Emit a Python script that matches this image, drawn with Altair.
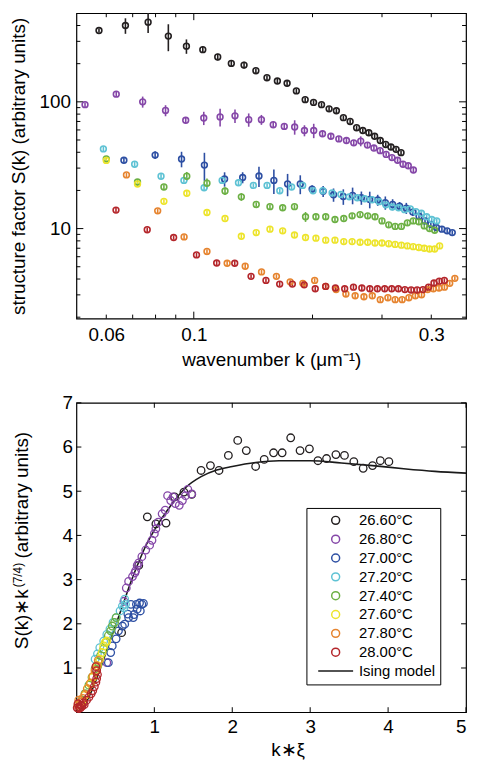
import altair as alt
import pandas as pd

FONT = "Liberation Sans"

series_names = ["26.60°C", "26.80°C", "27.00°C", "27.20°C",
                "27.40°C", "27.60°C", "27.80°C", "28.00°C"]
series_colors = ["#231f20", "#8547a8", "#2d4fa3", "#5ec2d4",
                 "#6cb044", "#ede42a", "#e6842f", "#b4262b"]
model_name = "Ising model"
model_color = "#1a1a1a"

# ---------------- top panel: S(k) vs k ----------------
k_2660 = [0.0575, 0.0671, 0.0766, 0.0862, 0.0958, 0.1054, 0.1150, 0.1245, 0.1341, 0.1437,
          0.1533, 0.1629, 0.1724, 0.1820, 0.1916, 0.2012, 0.2108, 0.2203, 0.2299, 0.2395,
          0.2491, 0.2587, 0.2682, 0.2778, 0.2874, 0.2970, 0.3066, 0.3161, 0.3257, 0.3353]
S_2660 = [365, 400, 425, 330, 275, 258, 226, 201, 195, 176, 155, 146, 140, 122, 104, 99, 95, 88,
          85, 75, 70, 62.5, 59.4, 57, 53.5, 49.5, 46.1, 44, 42.2, 39.7]
e_2660 = [0.04, 0.14, 0.18, 0.24, 0.13, 0.06, 0.06, 0.05, 0.06, 0.04, 0.04, 0.04, 0.05, 0.04, 0.04,
          0.04, 0.04, 0.04, 0.04, 0.04, 0.04, 0.04, 0.04, 0.04, 0.04, 0.04, 0.04, 0.04, 0.04, 0.04]

k_2680 = [0.0530, 0.0636, 0.0742, 0.0848, 0.0954, 0.1060, 0.1166, 0.1272, 0.1378, 0.1484,
          0.1590, 0.1696, 0.1802, 0.1908, 0.2014, 0.2120, 0.2226, 0.2332, 0.2438, 0.2544,
          0.2650, 0.2756, 0.2862, 0.2968, 0.3074, 0.3180, 0.3286, 0.3392, 0.3498, 0.3604]
S_2680 = [95, 115, 100, 85.5, 71.5, 74.5, 76, 77.5, 72.3, 72.3, 66, 64, 63.3, 59.4, 59.4, 56,
          53.5, 51, 49.5, 47.5, 49, 45.6, 43.2, 41.2, 38.5, 36.3, 34.6, 32.2, 31.3, 29]
e_2680 = [0.04, 0.05, 0.10, 0.10, 0.05, 0.12, 0.16, 0.12, 0.12, 0.09, 0.05, 0.05, 0.13, 0.10, 0.13,
          0.05, 0.05, 0.05, 0.05, 0.05, 0.09, 0.05, 0.04, 0.04, 0.04, 0.04, 0.04, 0.04, 0.04, 0.04]

k_2700 = [0.0665, 0.0798, 0.0931, 0.1064, 0.1197, 0.1330, 0.1463, 0.1596, 0.1729, 0.1862,
          0.1995, 0.2128, 0.2261, 0.2394, 0.2527, 0.2660, 0.2793, 0.2926, 0.3059, 0.3192,
          0.3325, 0.3458, 0.3591, 0.3724, 0.3857, 0.3990, 0.4123, 0.4256, 0.4389, 0.4522]
S_2700 = [34.6, 38, 35.4, 31.7, 24.6, 25.3, 26, 24, 22.5, 22.5, 20.5, 19.7, 18.5, 17.9, 18.3,
          17.5, 17, 16.8, 16, 15.5, 15, 14.5, 13.5, 12.5, 11.5, 10.8, 10.2, 9.9, 9.6, 9.3]
e_2700 = [0.04, 0.07, 0.14, 0.25, 0.13, 0.10, 0.18, 0.22, 0.20, 0.17, 0.07, 0.10, 0.12, 0.14, 0.15,
          0.12, 0.15, 0.10, 0.12, 0.10, 0.08, 0.10, 0.07, 0.06, 0.05, 0.04, 0.04, 0.04, 0.04, 0.04]

k_2720 = [0.0590, 0.0708, 0.0826, 0.0944, 0.1062, 0.1180, 0.1298, 0.1416, 0.1534, 0.1652,
          0.1770, 0.1888, 0.2006, 0.2124, 0.2242, 0.2360, 0.2478, 0.2596, 0.2714, 0.2832,
          0.2950, 0.3068, 0.3186, 0.3304, 0.3422, 0.3540, 0.3658, 0.3776, 0.3894, 0.4012, 0.4130]
S_2720 = [42.5, 32.2, 25.9, 24, 21, 24, 23, 21.9, 21.9, 19.9, 21.3, 21.9, 19.9, 19.9, 19.1, 18.6,
          17.8, 17.5, 17.2, 16.9, 16.3, 15.4, 14.8, 14.6, 14.1, 14.3, 13.6, 13.2, 12.4, 11.8, 11.5]
e_2720 = [0.05, 0.04, 0.04, 0.04, 0.04, 0.06, 0.04, 0.04, 0.04, 0.04, 0.04, 0.04, 0.04, 0.04, 0.04,
          0.04, 0.04, 0.04, 0.04, 0.04, 0.04, 0.04, 0.04, 0.04, 0.04, 0.04, 0.04, 0.04, 0.04, 0.04, 0.04]

k_2740 = [0.060, 0.072, 0.084, 0.096, 0.108, 0.120, 0.132, 0.144, 0.156, 0.168,
          0.180, 0.192, 0.204, 0.216, 0.228, 0.240, 0.252, 0.264, 0.276, 0.288,
          0.300, 0.312, 0.324, 0.336, 0.348, 0.360, 0.372, 0.384, 0.396, 0.408]
S_2740 = [35.5, 23.3, 21.3, 25.9, 22.8, 19.8, 17.8, 15.5, 14.9, 14.6, 14.9, 12.4, 12.4, 12.4, 11.8,
          12, 12.6, 12.9, 12.6, 12.4, 11.5, 10.7, 10.4, 10.4, 11.1, 11.5, 11.3, 10.5, 10, 9.7]
e_2740 = [0.04, 0.04, 0.04, 0.08, 0.09, 0.07, 0.07, 0.04, 0.04, 0.04, 0.04, 0.09, 0.04, 0.04, 0.04,
          0.04, 0.04, 0.04, 0.04, 0.04, 0.04, 0.04, 0.04, 0.04, 0.04, 0.04, 0.04, 0.04, 0.04, 0.04]

k_2760 = [0.060, 0.072, 0.084, 0.096, 0.108, 0.120, 0.132, 0.144, 0.156, 0.168,
          0.180, 0.192, 0.204, 0.216, 0.228, 0.240, 0.252, 0.264, 0.276, 0.288,
          0.300, 0.312, 0.324, 0.336, 0.348, 0.360, 0.372, 0.384, 0.396, 0.408, 0.420]
S_2760 = [34.5, 22.5, 16.4, 19, 13.4, 12, 8.7, 9.3, 9.9, 9.6, 8.9, 8.5, 8.4, 8.1, 8.1, 7.9, 7.9,
          7.8, 7.8, 7.7, 7.7, 7.6, 7.5, 7.4, 7.3, 7.2, 7.1, 7.0, 6.9, 6.9, 7.3]
e_2760 = [0.04, 0.04, 0.04, 0.04, 0.04, 0.04, 0.04, 0.04, 0.04, 0.04, 0.04, 0.04, 0.04, 0.04, 0.04,
          0.04, 0.04, 0.04, 0.04, 0.04, 0.04, 0.04, 0.04, 0.04, 0.04, 0.04, 0.04, 0.04, 0.04, 0.04, 0.04]

k_2780 = [0.0675, 0.0810, 0.0945, 0.1080, 0.1215, 0.1350, 0.1485, 0.1620, 0.1755, 0.1890,
          0.2025, 0.2160, 0.2295, 0.2430, 0.2565, 0.2700, 0.2835, 0.2970, 0.3105, 0.3240,
          0.3375, 0.3510, 0.3645, 0.3780, 0.3915, 0.4050, 0.4185, 0.4320, 0.4455, 0.4590]
S_2780 = [26.5, 13.8, 8.6, 6.6, 5.33, 5.05, 4.55, 4.2, 3.8, 3.7, 3.9, 3.5, 3.3, 3.05, 2.95, 2.9,
          2.95, 2.75, 2.85, 2.75, 2.75, 2.85, 2.95, 3.0, 3.3, 3.35, 3.4, 3.45, 3.7, 4.05]
e_2780 = [0.04, 0.04, 0.04, 0.04, 0.04, 0.04, 0.04, 0.04, 0.04, 0.04, 0.04, 0.04, 0.04, 0.04, 0.04,
          0.04, 0.04, 0.04, 0.04, 0.04, 0.04, 0.04, 0.04, 0.04, 0.04, 0.04, 0.04, 0.04, 0.04, 0.04]

k_2800 = [0.0635, 0.0762, 0.0889, 0.1016, 0.1143, 0.1270, 0.1397, 0.1524, 0.1651, 0.1778,
          0.1905, 0.2032, 0.2159, 0.2286, 0.2413, 0.2540, 0.2667, 0.2794, 0.2921, 0.3048,
          0.3175, 0.3302, 0.3429, 0.3556, 0.3683, 0.3810, 0.3937, 0.4064, 0.4191, 0.4318]
S_2800 = [14, 9.8, 8.5, 6.2, 5.35, 5.33, 4.2, 3.9, 3.65, 3.65, 3.6, 3.35, 3.5, 3.4, 3.35, 3.45,
          3.4, 3.35, 3.35, 3.35, 3.35, 3.35, 3.3, 3.28, 3.28, 3.3, 3.45, 3.72, 3.85, 3.9]
e_2800 = [0.04, 0.04, 0.04, 0.04, 0.04, 0.04, 0.04, 0.04, 0.04, 0.04, 0.04, 0.04, 0.04, 0.04, 0.04,
          0.04, 0.04, 0.04, 0.04, 0.04, 0.04, 0.04, 0.04, 0.04, 0.04, 0.04, 0.04, 0.04, 0.04, 0.04]

# ---------------- bottom panel: S(k)*k^(7/4) vs k*xi ----------------
xb_2660 = [0.58, 0.80, 0.91, 1.02, 1.15, 1.26, 1.38, 1.48, 1.60, 1.72, 1.83, 1.95, 2.07, 2.18, 2.30,
           2.41, 2.53, 2.64, 2.75, 2.87, 2.99, 3.10, 3.21, 3.33, 3.44, 3.56, 3.68, 3.80, 3.90, 4.01]
yb_2660 = [1.80, 3.32, 4.42, 4.26, 4.28, 4.87, 4.98, 4.93, 5.47, 5.58, 5.47, 5.81, 6.15, 5.92, 5.56,
           5.72, 5.87, 5.87, 6.21, 5.92, 5.96, 5.69, 5.74, 5.83, 5.81, 5.67, 5.52, 5.58, 5.69, 5.67]
xb_2680 = [0.39, 0.61, 0.64, 0.67, 0.72, 0.75, 0.76, 0.78, 0.80, 0.84, 0.89, 0.94, 0.97, 1.00,
           1.02, 1.05, 1.10, 1.14, 1.17, 1.21, 1.24, 1.27, 1.32, 1.36, 1.40, 1.43, 1.48]
yb_2680 = [1.12, 2.51, 2.81, 2.96, 3.07, 3.15, 3.20, 3.32, 3.38, 3.52, 3.67, 3.78, 3.89, 4.04,
           4.15, 4.30, 4.49, 4.57, 4.90, 4.79, 4.87, 4.72, 4.68, 4.79, 4.90, 5.04, 4.94]
xb_2700 = [0.41, 0.44, 0.46, 0.51, 0.54, 0.59, 0.62, 0.66, 0.67, 0.70, 0.73, 0.74, 0.77, 0.78,
           0.81, 0.82, 0.84, 0.86]
yb_2700 = [1.12, 1.35, 1.50, 1.66, 1.84, 1.95, 1.99, 2.22, 2.14, 2.44, 2.14, 2.21, 2.44, 2.33,
           2.47, 2.29, 2.44, 2.46]
xb_2720 = [0.24, 0.27, 0.30, 0.35, 0.39, 0.43, 0.47, 0.51, 0.56, 0.59, 0.61, 0.62, 0.63]
yb_2720 = [1.20, 1.32, 1.46, 1.61, 1.76, 1.88, 2.03, 2.14, 2.29, 2.40, 2.36, 2.56, 2.44]
xb_2740 = [0.07, 0.11, 0.16, 0.20, 0.24, 0.28, 0.31, 0.35, 0.38, 0.41, 0.44, 0.46, 0.49, 0.51]
yb_2740 = [0.27, 0.42, 0.61, 0.79, 0.98, 1.13, 1.28, 1.43, 1.58, 1.73, 1.84, 1.95, 2.03, 2.14]
xb_2760 = [0.04, 0.07, 0.11, 0.14, 0.18, 0.21, 0.24, 0.27, 0.30, 0.33, 0.35, 0.37, 0.39]
yb_2760 = [0.12, 0.23, 0.38, 0.53, 0.64, 0.79, 0.94, 1.05, 1.20, 1.35, 1.50, 1.58, 1.61]
xb_2780 = [0.02, 0.03, 0.05, 0.08, 0.11, 0.14, 0.18, 0.21, 0.24, 0.26, 0.28]
yb_2780 = [0.16, 0.27, 0.23, 0.31, 0.40, 0.53, 0.66, 0.81, 0.94, 1.05, 1.17]
xb_2800 = [0.01, 0.02, 0.03, 0.04, 0.05, 0.06, 0.07, 0.09, 0.10, 0.13, 0.16, 0.19, 0.21, 0.23,
           0.25, 0.26, 0.27, 0.26, 0.25]
yb_2800 = [0.10, 0.19, 0.08, 0.12, 0.10, 0.16, 0.13, 0.21, 0.17, 0.27, 0.34, 0.42, 0.49, 0.58,
           0.68, 0.76, 0.85, 0.94, 1.03]

ising_x = [0, 0.1, 0.2, 0.3, 0.4, 0.5, 0.6, 0.7, 0.8, 0.9, 1.0, 1.2, 1.4, 1.6, 1.8, 2.0,
           2.3, 2.6, 3.0, 3.4, 3.8, 4.2, 4.6, 5.0]
ising_y = [0, 0.15, 0.5, 0.95, 1.45, 1.95, 2.45, 2.95, 3.4, 3.8, 4.12, 4.65, 5.08, 5.33, 5.48, 5.56,
           5.65, 5.69, 5.69, 5.64, 5.58, 5.51, 5.45, 5.41]

# axis tick / label lists
top_x_label_vals = [0.06, 0.1, 0.4]
top_x_label_text = ["0.06", "0.1", "0.3"]
top_x_major = [0.1]
top_x_minor = [0.06, 0.07, 0.08, 0.09, 0.2, 0.3, 0.4]
top_y_label_vals = [10, 100]
top_y_label_text = ["10", "100"]
top_y_major = [10, 100]
top_y_minor = [2, 3, 4, 5, 6, 7, 8, 9, 20, 30, 40, 50, 60, 70, 80, 90, 200, 300, 400]
bot_x_vals = [1, 2, 3, 4, 5]
bot_y_vals = [1, 2, 3, 4, 5, 6, 7]

# ---------------- build tables ----------------
top_series = [
    (series_names[0], k_2660, S_2660, e_2660),
    (series_names[1], k_2680, S_2680, e_2680),
    (series_names[2], k_2700, S_2700, e_2700),
    (series_names[3], k_2720, S_2720, e_2720),
    (series_names[4], k_2740, S_2740, e_2740),
    (series_names[5], k_2760, S_2760, e_2760),
    (series_names[6], k_2780, S_2780, e_2780),
    (series_names[7], k_2800, S_2800, e_2800),
]
rows = []
for name, ks, ss, es in top_series:
    for k, s, e in zip(ks, ss, es):
        rows.append({"series": name, "k": k, "S": s, "lo": s * (1 - e), "hi": s * (1 + e)})
df_top = pd.DataFrame(rows)

bot_series = [
    (series_names[0], xb_2660, yb_2660),
    (series_names[1], xb_2680, yb_2680),
    (series_names[2], xb_2700, yb_2700),
    (series_names[3], xb_2720, yb_2720),
    (series_names[4], xb_2740, yb_2740),
    (series_names[5], xb_2760, yb_2760),
    (series_names[6], xb_2780, yb_2780),
    (series_names[7], xb_2800, yb_2800),
]
rows = []
for name, xs, ys in bot_series:
    for x, y in zip(xs, ys):
        rows.append({"series": name, "x": x, "y": y})
df_bot = pd.DataFrame(rows)
df_ising = pd.DataFrame({"x": ising_x, "y": ising_y, "series": [model_name] * len(ising_x)})


def label_expr(vals, texts):
    expr = "''"
    for v, t in reversed(list(zip(vals, texts))):
        expr = f"(abs(datum.value - {v}) < 1e-6) ? '{t}' : ({expr})"
    return expr


W = 393
H_TOP = 308
H_BOT = 312
MAJ = 7
MIN = 4

# ---------------- top chart ----------------
xs_top = alt.Scale(type="log", domain=[0.0504, 0.49], nice=False)
ys_top = alt.Scale(type="log", domain=[1.95, 500], nice=False)
x_axis_top = alt.Axis(values=top_x_label_vals, labelExpr=label_expr(top_x_label_vals, top_x_label_text),
                      title="wavenumber k (μm⁻¹)", ticks=False, domain=False, grid=False,
                      labelPadding=7, titlePadding=6, labelFlush=False, labelOverlap=False)
y_axis_top = alt.Axis(values=top_y_label_vals, labelExpr=label_expr(top_y_label_vals, top_y_label_text),
                      title="structure factor S(k) (arbitrary units)", ticks=False, domain=False,
                      grid=False, labelPadding=6, titlePadding=11, labelFlush=False, labelOverlap=False)
cs_top = alt.Scale(domain=series_names, range=series_colors)


def xtick_layers(vals, length, scale, axis, height):
    d = pd.DataFrame({"t": vals})
    base = alt.Chart(d).mark_rule(color="black", strokeWidth=1)
    return [
        base.encode(x=alt.X("t:Q", scale=scale, axis=axis), y=alt.value(0), y2=alt.value(length)),
        base.encode(x=alt.X("t:Q", scale=scale, axis=axis), y=alt.value(height), y2=alt.value(height - length)),
    ]


def ytick_layers(vals, length, scale, axis, width):
    d = pd.DataFrame({"t": vals})
    base = alt.Chart(d).mark_rule(color="black", strokeWidth=1)
    return [
        base.encode(y=alt.Y("t:Q", scale=scale, axis=axis), x=alt.value(0), x2=alt.value(length)),
        base.encode(y=alt.Y("t:Q", scale=scale, axis=axis), x=alt.value(width), x2=alt.value(width - length)),
    ]


top_err = alt.Chart(df_top).mark_rule(strokeWidth=1.6).encode(
    x=alt.X("k:Q", scale=xs_top, axis=x_axis_top),
    y=alt.Y("lo:Q", scale=ys_top, axis=y_axis_top),
    y2="hi:Q",
    color=alt.Color("series:N", scale=cs_top, legend=None),
)
top_pts = alt.Chart(df_top).mark_point(shape="circle", filled=False, size=34, strokeWidth=1.6, opacity=1).encode(
    x=alt.X("k:Q", scale=xs_top, axis=x_axis_top),
    y=alt.Y("S:Q", scale=ys_top, axis=y_axis_top),
    color=alt.Color("series:N", scale=cs_top, legend=None),
)

top_layers = (xtick_layers(top_x_major, MAJ, xs_top, x_axis_top, H_TOP)
              + xtick_layers(top_x_minor, MIN, xs_top, x_axis_top, H_TOP)
              + ytick_layers(top_y_major, MAJ, ys_top, y_axis_top, W)
              + ytick_layers(top_y_minor, MIN, ys_top, y_axis_top, W)
              + [top_err, top_pts])
top = alt.layer(*top_layers).properties(width=W, height=H_TOP)

# ---------------- bottom chart ----------------
xs_bot = alt.Scale(domain=[0, 5], nice=False)
ys_bot = alt.Scale(domain=[0, 7], nice=False)
x_axis_bot = alt.Axis(values=bot_x_vals, format="d", title="k∗ξ", ticks=False, domain=False, grid=False,
                      labelPadding=6, titlePadding=4, titleX=213, labelFlush=True, labelOverlap=False)
y_axis_bot = alt.Axis(values=bot_y_vals, format="d", title=None, ticks=False, domain=False, grid=False,
                      labelPadding=4, labelFlush=False, labelOverlap=False)
legend_names = series_names + [model_name]
cs_bot = alt.Scale(domain=legend_names, range=series_colors + [model_color])
ss_bot = alt.Scale(domain=legend_names, range=["circle"] * 8 + ["M-4.4,0H4.4"])
legend_bot = alt.Legend(title=None, orient="none", legendX=232, legendY=106, direction="vertical",
                        labelFont=FONT, labelFontSize=15, labelColor="black", symbolSize=64,
                        symbolStrokeWidth=1.5, strokeColor="black", fillColor="white", padding=5,
                        rowPadding=3.0, symbolOffset=17, labelOffset=16, labelLimit=200)

ising_line = alt.Chart(df_ising).mark_line(strokeWidth=1.6, interpolate="monotone").encode(
    x=alt.X("x:Q", scale=xs_bot, axis=x_axis_bot),
    y=alt.Y("y:Q", scale=ys_bot, axis=y_axis_bot),
    color=alt.Color("series:N", scale=cs_bot, legend=legend_bot),
)
bot_pts = alt.Chart(df_bot).mark_point(filled=False, size=58, strokeWidth=1.3, opacity=1).encode(
    x=alt.X("x:Q", scale=xs_bot, axis=x_axis_bot),
    y=alt.Y("y:Q", scale=ys_bot, axis=y_axis_bot),
    color=alt.Color("series:N", scale=cs_bot, legend=legend_bot),
    shape=alt.Shape("series:N", scale=ss_bot, legend=legend_bot),
)

one = pd.DataFrame({"a": [0]})
ttl_main = alt.Chart(one).mark_text(text="S(k)∗k", angle=270, align="right", baseline="alphabetic",
                                    font=FONT, fontSize=19, color="black").encode(
    x=alt.value(-49), y=alt.value(188))
ttl_sup = alt.Chart(one).mark_text(text="(7/4)", angle=270, align="left", baseline="alphabetic",
                                   font=FONT, fontSize=12, color="black").encode(
    x=alt.value(-55), y=alt.value(186))
ttl_units = alt.Chart(one).mark_text(text="(arbitrary units)", angle=270, align="left",
                                     baseline="alphabetic", font=FONT, fontSize=19, color="black").encode(
    x=alt.value(-49), y=alt.value(157))

bot_layers = (xtick_layers(bot_x_vals, 5, xs_bot, x_axis_bot, H_BOT)
              + ytick_layers(bot_y_vals, 5, ys_bot, y_axis_bot, W)
              + [ising_line, bot_pts, ttl_main, ttl_sup, ttl_units])
bottom = alt.layer(*bot_layers).properties(width=W, height=H_BOT)

chart = (
    alt.vconcat(top, bottom, spacing=23)
    .resolve_scale(color="independent", shape="independent")
    .resolve_legend(color="independent", shape="independent")
    .properties(padding=0, background="white")
    .configure_view(stroke="black", strokeWidth=1.2)
    .configure_axis(labelFont=FONT, titleFont=FONT, labelFontSize=19, titleFontSize=19,
                    titleFontWeight="normal", labelColor="black", titleColor="black")
)

chart.save("out.html", embed_options={"renderer": "svg", "actions": False})
